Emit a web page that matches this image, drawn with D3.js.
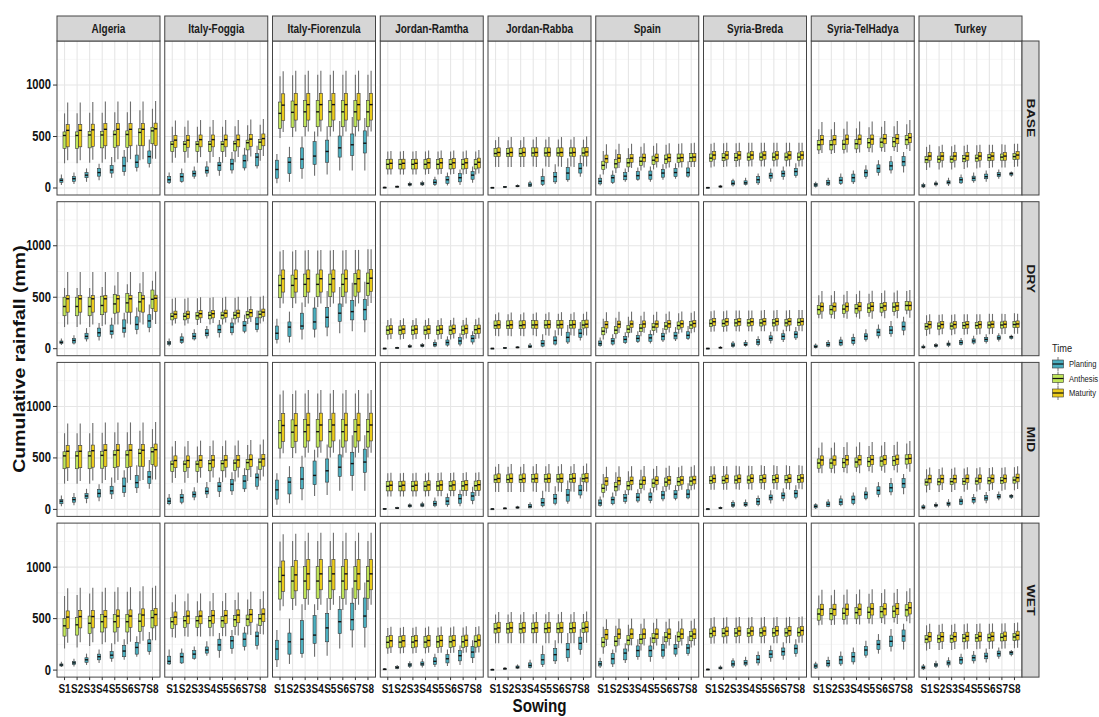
<!DOCTYPE html>
<html>
<head>
<meta charset="utf-8">
<script src="https://cdn.jsdelivr.net/npm/d3@7"></script>
<style>
    body { margin: 0; background: #fff; }
    svg { display: block; font-family: "Liberation Sans", Arial, sans-serif; }
</style>
</head>
<body>
<svg id="chart"></svg>
<script>
const sites = ["Algeria", "Italy-Foggia", "Italy-Fiorenzula", "Jordan-Ramtha", "Jordan-Rabba",
    "Spain", "Syria-Breda", "Syria-TelHadya", "Turkey"];
const scenarios = ["BASE", "DRY", "MID", "WET"];
const sowings = ["S1", "S2", "S3", "S4", "S5", "S6", "S7", "S8"];
const times = ["Planting", "Anthesis", "Maturity"];
const timeColors = ["#4aaebf", "#bfe559", "#ebcb1c"];
const yTicks = [0, 500, 1000];
const yMinor = [250, 750, 1250];

// planting: per site, per sowing [lower whisker, q1, median, q3, upper whisker]
const plantBASE = [
    [[30,55,75,90,130],[40,65,90,110,150],[60,100,125,150,190],[75,115,150,190,235],[100,145,175,220,300],[120,160,215,300,370],[160,200,250,320,420],[200,240,305,360,470]],
    [[40,55,80,110,150],[50,65,110,140,190],[90,115,140,165,210],[110,145,170,205,260],[120,170,220,250,300],[140,175,235,280,350],[170,195,265,320,390],[190,215,300,335,410]],
    [[45,95,180,270,330],[60,140,250,295,400],[90,190,280,390,500],[120,230,310,450,550],[130,250,355,465,600],[170,300,390,505,650],[170,315,420,525,690],[170,340,435,555,680]],
    [[0,2,5,8,12],[5,8,12,18,25],[15,25,35,45,60],[20,30,40,52,70],[20,35,55,80,110],[25,45,80,110,150],[30,60,100,140,180],[50,85,125,160,210]],
    [[0,2,4,6,10],[3,6,10,14,20],[8,12,18,25,35],[10,15,30,50,70],[20,35,70,110,190],[40,60,110,150,230],[60,80,145,200,290],[110,145,190,240,320]],
    [[25,40,65,95,130],[40,55,100,125,170],[60,80,115,150,190],[70,85,120,160,200],[60,85,125,165,210],[80,105,145,180,230],[90,110,150,190,240],[100,115,150,195,260]],
    [[0,2,4,6,10],[3,8,14,20,30],[15,30,45,70,90],[25,35,50,70,100],[30,50,80,110,140],[60,95,120,145,190],[80,110,140,165,210],[100,120,160,190,240]],
    [[5,15,30,45,60],[20,30,50,75,100],[30,45,75,105,140],[40,60,100,135,170],[90,110,150,175,220],[120,150,190,225,270],[140,175,215,255,310],[150,215,255,305,350]],
    [[0,10,20,35,50],[15,30,40,50,70],[20,40,55,70,100],[40,50,80,100,130],[50,70,95,115,150],[60,90,110,135,170],[90,110,130,150,180],[110,125,140,148,160]]
];
const plantDRY = [
    [[35,50,62,75,100],[40,55,80,100,130],[70,95,120,150,200],[80,120,155,200,250],[100,140,170,230,300],[110,160,200,280,350],[140,185,235,310,400],[160,205,270,330,430]],
    [[25,40,55,70,100],[45,60,85,115,150],[80,95,120,150,190],[100,125,150,185,220],[110,155,185,230,280],[130,155,210,250,300],[150,170,225,265,330],[160,185,240,300,370]],
    [[50,90,150,220,290],[60,120,210,260,360],[90,190,220,345,450],[110,190,260,395,500],[120,210,305,400,560],[150,265,345,435,600],[170,280,360,470,640],[160,280,380,480,650]],
    [[0,1,3,5,8],[3,5,8,12,18],[8,15,22,30,45],[12,20,30,40,55],[15,25,40,60,90],[20,35,60,85,120],[25,45,75,110,150],[40,65,100,130,170]],
    [[0,1,3,5,8],[2,4,7,10,15],[5,8,12,18,25],[8,12,20,35,55],[15,25,50,80,140],[30,45,80,115,180],[45,65,110,160,230],[80,110,150,190,260]],
    [[20,30,50,75,110],[30,45,75,100,140],[45,60,90,120,160],[55,70,100,130,170],[50,70,105,140,180],[65,85,120,150,200],[75,95,125,160,210],[85,100,130,165,220]],
    [[0,1,3,5,8],[2,6,10,15,25],[10,20,35,55,75],[20,30,40,60,85],[25,40,65,90,120],[50,80,100,125,165],[65,90,120,145,185],[85,105,140,165,210]],
    [[3,10,20,35,50],[15,25,40,60,85],[25,35,60,85,115],[30,50,80,110,145],[70,90,120,145,190],[100,125,160,190,235],[115,145,180,215,270],[130,180,215,260,310]],
    [[0,8,15,25,40],[10,20,30,40,55],[15,30,45,55,80],[30,40,60,80,105],[40,55,75,95,125],[50,70,90,110,140],[70,90,105,125,150],[90,100,115,122,135]]
];
const plantMID = [
    [[30,55,80,95,135],[40,70,95,115,160],[60,105,130,155,200],[80,120,155,195,245],[100,150,180,225,310],[120,165,225,305,380],[160,210,260,330,430],[200,250,315,370,480]],
    [[40,55,80,110,150],[50,70,115,145,195],[90,120,145,170,215],[110,150,175,210,265],[120,175,225,260,310],[140,180,245,290,360],[170,200,275,330,400],[190,225,310,345,420]],
    [[45,100,190,285,350],[60,150,265,310,420],[90,200,295,410,520],[130,240,330,470,580],[140,265,375,490,630],[180,320,410,530,680],[180,330,445,555,720],[180,360,460,585,720]],
    [[0,2,5,8,12],[5,8,12,18,25],[15,25,35,45,60],[20,30,42,55,75],[20,35,55,80,115],[25,45,80,115,155],[30,60,105,145,190],[50,85,130,165,220]],
    [[0,2,4,6,10],[3,6,10,14,20],[8,12,18,25,35],[10,15,28,48,70],[20,35,65,105,180],[40,60,105,145,225],[55,80,140,195,280],[105,140,185,235,310]],
    [[25,40,62,92,125],[40,55,95,120,165],[55,78,112,145,185],[65,82,118,155,195],[60,85,122,160,205],[78,102,140,175,225],[88,108,148,185,235],[98,112,148,190,255]],
    [[0,2,4,6,10],[3,8,13,19,28],[14,28,43,66,88],[24,34,48,68,96],[30,48,76,105,135],[58,92,115,140,185],[78,108,135,160,205],[98,118,155,185,235]],
    [[5,15,30,45,60],[20,30,50,72,98],[30,45,72,102,136],[40,58,96,130,165],[88,108,145,170,215],[118,146,185,220,265],[138,170,210,250,305],[148,210,250,300,345]],
    [[0,10,20,35,50],[15,30,40,50,70],[20,40,55,70,100],[40,50,80,100,130],[50,70,95,115,150],[60,90,110,135,170],[90,110,125,145,175],[100,115,130,138,150]]
];
const plantWET = [
    [[30,40,50,60,80],[35,55,70,85,110],[50,75,100,120,160],[70,100,130,155,200],[80,115,145,180,260],[100,130,185,240,300],[130,155,220,270,330],[150,180,260,295,370]],
    [[50,60,85,135,200],[60,70,130,165,210],[100,115,155,190,230],[140,165,195,225,280],[120,190,245,300,360],[160,210,285,325,390],[190,230,300,360,420],[200,240,330,370,450]],
    [[30,100,205,290,390],[60,155,275,360,500],[120,160,300,480,640],[130,260,340,530,640],[140,275,410,550,700],[210,355,470,590,720],[220,390,490,650,800],[220,415,525,700,850]],
    [[0,3,8,12,20],[8,15,25,35,50],[20,35,50,65,85],[25,45,60,80,110],[30,55,85,120,160],[40,70,110,150,200],[50,90,140,190,240],[70,120,175,230,290]],
    [[0,2,5,8,12],[5,8,14,20,30],[10,18,28,40,55],[15,25,45,70,100],[30,55,100,150,240],[60,90,150,210,290],[80,120,200,260,360],[150,200,260,320,400]],
    [[20,40,60,85,120],[30,60,110,160,200],[70,100,165,205,260],[100,130,190,235,300],[80,130,190,235,320],[110,135,195,250,330],[130,155,210,250,340],[140,160,215,250,330]],
    [[0,3,6,10,15],[5,12,20,30,45],[20,40,60,90,115],[35,50,70,95,130],[45,70,105,140,180],[80,120,155,190,240],[100,145,180,215,270],[130,160,210,245,300]],
    [[10,20,40,60,80],[25,40,65,95,130],[40,60,100,135,180],[55,80,130,170,220],[120,145,195,230,285],[160,200,250,290,350],[180,230,280,330,400],[200,280,330,390,450]],
    [[0,12,25,40,60],[20,35,50,65,90],[25,50,70,90,125],[50,65,100,125,160],[65,90,120,145,185],[75,110,135,165,210],[110,135,160,185,220],[135,150,170,180,195]]
];

// anthesis and maturity: per site the 8 sowing medians, and per site the box offsets
// from the median [lower whisker, q1, q3, upper whisker]
const anthMedBASE = [
    [510,510,515,515,520,520,540,555],[425,425,425,425,425,430,440,445],[725,735,740,740,740,740,740,740],
    [230,230,230,230,230,230,230,230],[335,335,335,340,340,340,340,340],[220,235,245,260,270,280,290,295],
    [290,295,295,300,300,300,300,300],[420,420,425,430,440,445,450,470],[275,280,280,285,290,295,300,305]
];
const anthSpreadBASE = [
    [-270,-125,35,215],[-180,-70,25,170],[-240,-145,110,360],[-100,-45,45,125],[-130,-30,50,130],
    [-90,-40,40,140],[-90,-30,40,140],[-90,-50,40,150],[-100,-30,30,125]
];
const matMedBASE = [
    [560,560,565,570,570,570,570,575],[465,465,470,470,470,470,475,480],[805,810,810,810,810,810,810,810],
    [240,240,240,245,245,245,245,250],[345,345,345,345,345,345,345,350],[285,290,290,295,295,295,295,300],
    [320,320,320,320,320,320,320,320],[470,470,475,475,475,480,480,490],[310,310,310,310,310,310,310,320]
];
const matSpreadBASE = [
    [-290,-160,55,270],[-170,-70,45,190],[-260,-150,110,330],[-110,-55,40,120],[-140,-40,45,150],
    [-95,-40,35,140],[-110,-40,35,120],[-130,-50,40,170],[-110,-40,35,110]
];

const anthMedDRY = [
    [410,410,410,420,435,445,455,480],[315,315,320,325,325,325,330,335],[615,615,625,625,625,625,630,635],
    [180,180,180,180,180,180,180,185],[225,225,225,230,230,230,230,230],[170,180,190,200,210,220,225,230],
    [245,245,250,250,250,250,250,255],[380,380,385,390,395,400,405,420],[215,220,220,225,225,230,230,235]
];
const anthSpreadDRY = [
    [-200,-90,90,180],[-90,-35,30,170],[-220,-120,100,330],[-90,-40,40,100],[-100,-30,45,110],
    [-80,-35,35,120],[-80,-30,35,120],[-85,-45,40,140],[-90,-30,30,110]
];
const matMedDRY = [
    [485,485,485,485,485,485,485,490],[335,335,340,340,345,345,350,355],[680,680,680,680,680,680,680,685],
    [190,190,190,190,190,195,195,195],[232,232,232,232,235,235,235,238],[235,238,240,240,240,242,242,245],
    [262,262,262,262,265,265,265,265],[410,410,410,412,412,415,415,420],[235,235,235,235,235,238,238,240]
];
const matSpreadDRY = [
    [-250,-130,30,260],[-90,-40,30,160],[-240,-130,85,280],[-95,-45,35,105],[-110,-35,40,120],
    [-85,-35,30,120],[-95,-35,30,110],[-120,-45,35,150],[-95,-35,30,100]
];

const anthMedMID = [
    [520,520,520,525,530,530,545,560],[440,440,440,445,445,450,455,460],[745,750,755,755,755,755,755,755],
    [225,225,225,225,228,228,228,230],[290,290,290,295,295,295,295,298],[205,220,230,245,255,265,270,275],
    [280,282,285,285,288,288,288,290],[450,450,455,460,465,470,475,490],[265,268,270,272,275,278,280,285]
];
const anthSpreadMID = [
    [-270,-125,40,220],[-180,-70,30,170],[-250,-150,120,370],[-100,-45,45,125],[-120,-30,45,125],
    [-90,-40,40,140],[-90,-30,40,140],[-95,-50,40,150],[-100,-30,30,125]
];
const matMedMID = [
    [565,565,570,575,575,575,575,580],[475,475,478,480,480,480,485,490],[815,815,820,820,820,820,820,820],
    [235,235,235,238,238,238,240,240],[300,300,300,300,300,300,302,305],[275,278,280,282,282,285,285,288],
    [300,300,300,302,302,302,302,305],[480,480,482,482,485,485,488,495],[298,298,298,300,300,300,300,308]
];
const matSpreadMID = [
    [-290,-160,55,270],[-170,-70,45,190],[-270,-155,115,340],[-110,-55,40,120],[-130,-40,45,140],
    [-95,-40,35,140],[-110,-40,35,120],[-130,-50,40,170],[-110,-40,35,110]
];

const anthMedWET = [
    [430,440,455,470,470,470,475,510],[470,480,480,480,480,490,495,500],[860,865,865,865,865,865,865,865],
    [270,272,272,272,275,275,275,278],[400,400,400,402,402,402,402,405],[270,280,290,300,310,320,325,330],
    [355,358,360,360,362,362,362,365],[545,548,552,558,562,568,572,585],[300,305,305,310,312,315,318,322]
];
const anthSpreadWET = [
    [-220,-100,70,290],[-150,-65,40,190],[-280,-170,140,390],[-110,-55,55,140],[-140,-40,55,140],
    [-110,-45,45,150],[-100,-35,45,150],[-110,-60,50,180],[-110,-35,35,135]
];
const matMedWET = [
    [515,520,520,520,525,525,535,540],[515,525,525,530,530,535,540,545],[920,925,935,935,935,935,935,935],
    [285,285,285,288,288,288,290,292],[410,410,410,410,410,410,410,415],[345,350,350,350,350,350,350,350],
    [378,378,380,380,380,382,382,385],[590,590,592,592,595,595,598,605],[325,325,325,328,328,328,330,338]
];
const matSpreadWET = [
    [-250,-110,60,280],[-200,-75,50,220],[-300,-155,140,400],[-120,-60,50,135],[-150,-45,55,155],
    [-110,-45,50,150],[-120,-45,40,135],[-150,-60,50,190],[-120,-45,40,125]
];

const plantings = [plantBASE, plantDRY, plantMID, plantWET];
const anthMeds = [anthMedBASE, anthMedDRY, anthMedMID, anthMedWET];
const anthSpreads = [anthSpreadBASE, anthSpreadDRY, anthSpreadMID, anthSpreadWET];
const matMeds = [matMedBASE, matMedDRY, matMedMID, matMedWET];
const matSpreads = [matSpreadBASE, matSpreadDRY, matSpreadMID, matSpreadWET];

const WIDTH = 1099, HEIGHT = 717;
const PANEL_X0 = 57, PANEL_DX = 107.75, PANEL_W = 103;
const PANEL_Y0 = 41, PANEL_DY = 160.7, PANEL_H = 154;
const STRIP_H = 25, RSTRIP_W = 17;
const SX = 0.8; // text is horizontally squeezed in the reference

const svg = d3.select("#chart")
    .attr("width", WIDTH)
    .attr("height", HEIGHT);

const x = d3.scalePoint().domain(sowings).range([0, PANEL_W]).padding(0.6);
const dodge = d3.scaleBand().domain(times)
    .range([-0.375 * x.step(), 0.375 * x.step()]);
const y = d3.scaleLinear().domain([-68, 1428]).range([PANEL_H, 0]);
const color = d3.scaleOrdinal().domain(times).range(timeColors);

function label(sel, px, py, str, size, opts = {}) {
    return sel.append("text")
        .attr("transform", `translate(${px},${py}) scale(${SX},1)` + (opts.rotate ? ` rotate(${opts.rotate})` : ""))
        .attr("text-anchor", opts.anchor || "middle")
        .attr("dominant-baseline", opts.baseline || "auto")
        .attr("font-size", size)
        .attr("font-weight", opts.weight || "bold")
        .attr("fill", opts.fill || "#1a1a1a")
        .text(str);
}

function panelBoxes(si, ri) {
    const out = [];
    sowings.forEach(function (s, k) {
        const p = plantings[ri][si][k];
        out.push({ sowing: s, time: "Planting", lo: p[0], q1: p[1], med: p[2], q3: p[3], hi: p[4] });
        [[anthMeds, anthSpreads, "Anthesis"], [matMeds, matSpreads, "Maturity"]].forEach(function ([M, S, t]) {
            const m = M[ri][si][k], d = S[ri][si];
            out.push({ sowing: s, time: t, lo: m + d[0], q1: m + d[1], med: m, q3: m + d[2], hi: m + d[3] });
        });
    });
    return out;
}

scenarios.forEach(function (scen, ri) {
    const py = PANEL_Y0 + ri * PANEL_DY;
    sites.forEach(function (site, si) {
        const px = PANEL_X0 + si * PANEL_DX;
        const g = svg.append("g").attr("transform", `translate(${px},${py})`);

        g.append("rect").attr("width", PANEL_W).attr("height", PANEL_H).attr("fill", "#fff");
        g.selectAll("line.minor").data(yMinor).enter().append("line")
            .attr("x1", 0).attr("x2", PANEL_W)
            .attr("y1", d => y(d)).attr("y2", d => y(d))
            .attr("stroke", "#f1f1f1").attr("stroke-width", 0.6);
        g.selectAll("line.major").data(yTicks).enter().append("line")
            .attr("x1", 0).attr("x2", PANEL_W)
            .attr("y1", d => y(d)).attr("y2", d => y(d))
            .attr("stroke", "#e6e6e6").attr("stroke-width", 1.1);
        g.selectAll("line.vgrid").data(sowings).enter().append("line")
            .attr("x1", d => x(d)).attr("x2", d => x(d))
            .attr("y1", 0).attr("y2", PANEL_H)
            .attr("stroke", "#e6e6e6").attr("stroke-width", 1.1);

        const boxes = g.selectAll("g.box")
            .data(panelBoxes(si, ri))
            .enter()
            .append("g")
            .attr("transform", d => `translate(${x(d.sowing) + dodge(d.time) + dodge.bandwidth() / 2},0)`);
        const bw = dodge.bandwidth();
        boxes.append("line")
            .attr("y1", d => y(d.lo)).attr("y2", d => y(d.hi))
            .attr("stroke", "#6e6e6e").attr("stroke-width", 1.1);
        boxes.append("rect")
            .attr("x", -bw / 2).attr("width", bw)
            .attr("y", d => y(d.q3))
            .attr("height", d => Math.max(1, y(d.q1) - y(d.q3)))
            .attr("fill", d => color(d.time))
            .attr("stroke", "#3a3a3a").attr("stroke-width", 0.6);
        boxes.append("line")
            .attr("x1", -bw / 2).attr("x2", bw / 2)
            .attr("y1", d => y(d.med)).attr("y2", d => y(d.med))
            .attr("stroke", "#111").attr("stroke-width", 1.4);

        g.append("rect").attr("width", PANEL_W).attr("height", PANEL_H)
            .attr("fill", "none").attr("stroke", "#444").attr("stroke-width", 1);

        if (ri === 0) {
            svg.append("rect")
                .attr("x", px).attr("y", PANEL_Y0 - STRIP_H)
                .attr("width", PANEL_W).attr("height", STRIP_H)
                .attr("fill", "#d6d6d6").attr("stroke", "#444").attr("stroke-width", 1);
            label(svg, px + PANEL_W / 2, PANEL_Y0 - STRIP_H / 2 + 4.5, site, 12.5);
        }
        if (si === 0) {
            g.selectAll("line.ytick").data(yTicks).enter().append("line")
                .attr("x1", -4).attr("x2", 0)
                .attr("y1", d => y(d)).attr("y2", d => y(d))
                .attr("stroke", "#333");
            yTicks.forEach(t => label(g, -6, y(t), t, 14, { anchor: "end", baseline: "central", fill: "#111" }));
        }
        if (ri === scenarios.length - 1) {
            g.selectAll("line.xtick").data(sowings).enter().append("line")
                .attr("x1", d => x(d)).attr("x2", d => x(d))
                .attr("y1", PANEL_H).attr("y2", PANEL_H + 3)
                .attr("stroke", "#333");
            sowings.forEach(s => label(g, x(s), PANEL_H + 16, s, 12.5, { fill: "#111" }));
        }
        if (si === sites.length - 1) {
            const rx = px + PANEL_W;
            svg.append("rect")
                .attr("x", rx).attr("y", py)
                .attr("width", RSTRIP_W).attr("height", PANEL_H)
                .attr("fill", "#d6d6d6").attr("stroke", "#444").attr("stroke-width", 1);
            label(svg, rx + RSTRIP_W / 2, py + PANEL_H / 2, scen, 14, { rotate: 90, baseline: "central" });
        }
    });
});

const panelsBottom = PANEL_Y0 + 3 * PANEL_DY + PANEL_H;
label(svg, 20, (PANEL_Y0 + panelsBottom) / 2, "Cumulative rainfall (mm)", 19.5,
    { rotate: -90, baseline: "central", fill: "#111" });
label(svg, (PANEL_X0 + PANEL_X0 + 8 * PANEL_DX + PANEL_W) / 2, 712, "Sowing", 19, { fill: "#111" });

// legend
const legend = svg.append("g").attr("transform", "translate(1052,340)");
label(legend, 0, 12, "Time", 11.5, { anchor: "start", weight: "normal", fill: "#222" });
times.forEach(function (t, i) {
    const cy = 24 + i * 14.5;
    const k = legend.append("g").attr("transform", `translate(6,${cy})`);
    k.append("line").attr("y1", -7).attr("y2", 7).attr("stroke", "#777");
    k.append("rect").attr("x", -5.5).attr("y", -4).attr("width", 11).attr("height", 8)
        .attr("fill", color(t)).attr("stroke", "#3a3a3a").attr("stroke-width", 0.6);
    k.append("line").attr("x1", -5.5).attr("x2", 5.5).attr("stroke", "#111").attr("stroke-width", 1.2);
    label(legend, 17, cy, t, 9.5, { anchor: "start", weight: "normal", baseline: "central", fill: "#222" });
});
</script>
</body>
</html>
